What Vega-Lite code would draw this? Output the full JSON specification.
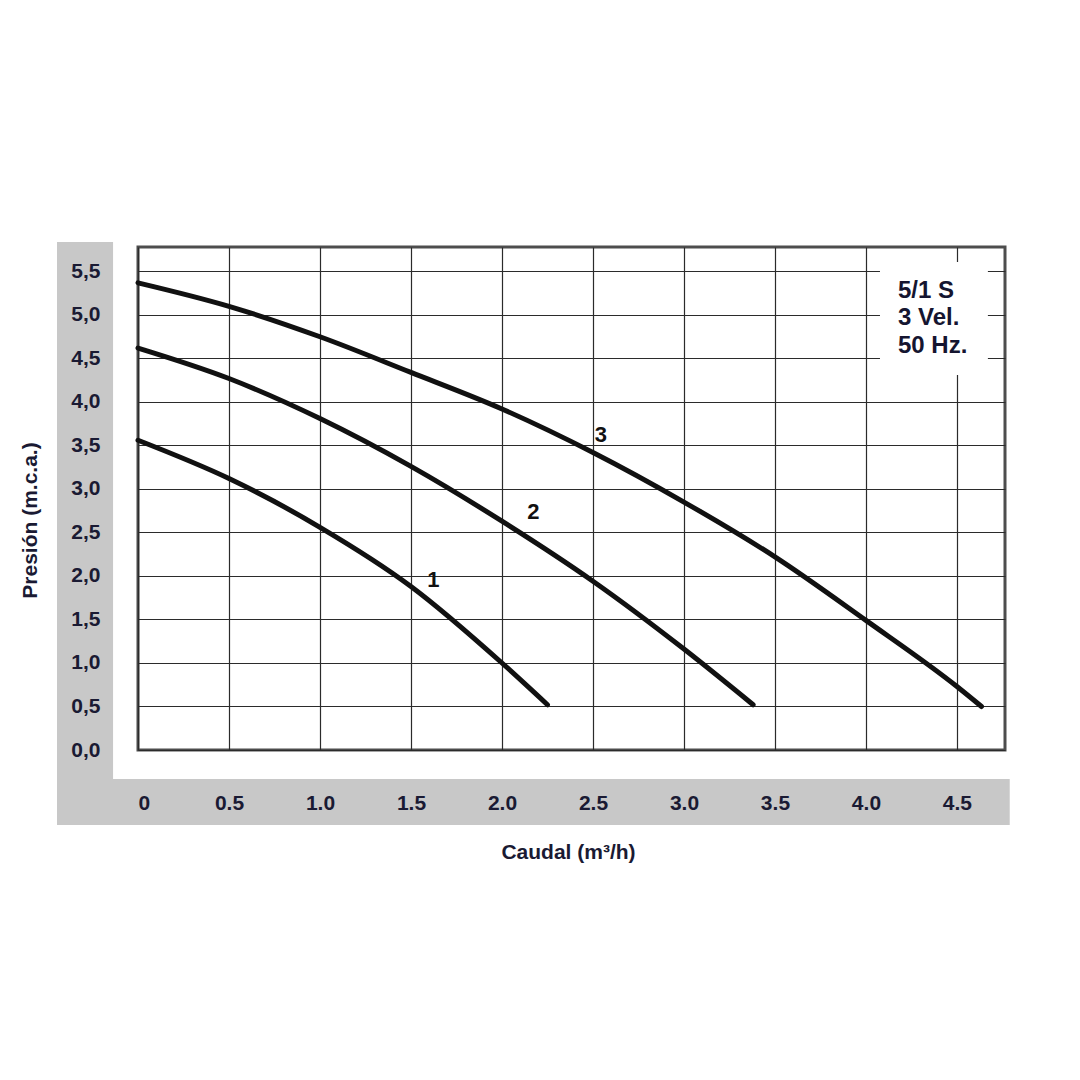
{
  "$schema": "https://vega.github.io/schema/vega-lite/v6.json",
  "autosize": {"type": "none"},
  "padding": {"left": 138, "top": 247, "right": 75, "bottom": 330},
  "width": 867,
  "height": 503,
  "background": "white",
  "config": {
    "view": {"stroke": "#4d4d4d", "strokeWidth": 3},
    "axis": {
      "domain": false,
      "ticks": false,
      "labelFont": "Liberation Sans",
      "labelFontWeight": "bold",
      "labelFontSize": 21,
      "labelColor": "#1a1a33",
      "titleFont": "Liberation Sans",
      "titleFontWeight": "bold",
      "titleFontSize": 21,
      "titleColor": "#1a1a33",
      "gridColor": "#2b2b2b",
      "gridWidth": 1.2,
      "gridOpacity": 1
    }
  },
  "resolve": {"axis": {"x": "independent", "y": "independent"}},
  "layer": [
    {
      "data": {"values": [{}]},
      "mark": {"type": "rect", "color": "#c8c8c8", "clip": false},
      "encoding": {
        "x": {"datum": -0.445, "type": "quantitative", "scale": {"domain": [0, 4.764], "nice": false, "zero": false},
          "axis": {"orient": "bottom", "grid": true, "labels": false, "title": null, "zindex": 0, "values": [0, 0.5, 1, 1.5, 2, 2.5, 3, 3.5, 4, 4.5]}},
        "x2": {"datum": -0.137},
        "y": {"datum": 5.84, "type": "quantitative", "scale": {"domain": [0, 5.7816], "nice": false, "zero": false},
          "axis": {"orient": "left", "grid": true, "labels": false, "title": null, "zindex": 0, "values": [0, 0.5, 1, 1.5, 2, 2.5, 3, 3.5, 4, 4.5, 5, 5.5]}},
        "y2": {"datum": -0.862}
      }
    },
    {
      "data": {"values": [{}]},
      "mark": {"type": "rect", "color": "#c8c8c8", "clip": false},
      "encoding": {
        "x": {"datum": -0.445, "type": "quantitative", "axis": null},
        "x2": {"datum": 4.79},
        "y": {"datum": -0.333, "type": "quantitative", "axis": null},
        "y2": {"datum": -0.862}
      }
    },
    {
      "data": {"values": [{}]},
      "mark": {"type": "rect", "color": "white", "clip": false},
      "encoding": {
        "x": {"datum": 4.077, "type": "quantitative", "axis": null},
        "x2": {"datum": 4.67},
        "y": {"datum": 5.61, "type": "quantitative", "axis": null},
        "y2": {"datum": 4.31}
      }
    },
    {
      "data": {"values": [
        {"curve": "1", "q": 0, "h": 3.56},
        {"curve": "1", "q": 0.5, "h": 3.12},
        {"curve": "1", "q": 1.0, "h": 2.56},
        {"curve": "1", "q": 1.5, "h": 1.88},
        {"curve": "1", "q": 2.0, "h": 1.0},
        {"curve": "1", "q": 2.25, "h": 0.52},
        {"curve": "2", "q": 0, "h": 4.62},
        {"curve": "2", "q": 0.5, "h": 4.27},
        {"curve": "2", "q": 1.0, "h": 3.81},
        {"curve": "2", "q": 1.5, "h": 3.26},
        {"curve": "2", "q": 2.0, "h": 2.63},
        {"curve": "2", "q": 2.5, "h": 1.94},
        {"curve": "2", "q": 3.0, "h": 1.16},
        {"curve": "2", "q": 3.38, "h": 0.52},
        {"curve": "3", "q": 0, "h": 5.37},
        {"curve": "3", "q": 0.5, "h": 5.10},
        {"curve": "3", "q": 1.0, "h": 4.75},
        {"curve": "3", "q": 1.5, "h": 4.34},
        {"curve": "3", "q": 2.0, "h": 3.92},
        {"curve": "3", "q": 2.5, "h": 3.42},
        {"curve": "3", "q": 3.0, "h": 2.85},
        {"curve": "3", "q": 3.5, "h": 2.22},
        {"curve": "3", "q": 4.0, "h": 1.49},
        {"curve": "3", "q": 4.5, "h": 0.73},
        {"curve": "3", "q": 4.635, "h": 0.5}
      ]},
      "mark": {"type": "line", "color": "#111111", "strokeWidth": 5, "interpolate": "monotone", "strokeCap": "round"},
      "encoding": {
        "detail": {"field": "curve"},
        "x": {"field": "q", "type": "quantitative",
          "axis": {"orient": "bottom", "grid": false, "zindex": 1, "values": [0, 0.5, 1, 1.5, 2, 2.5, 3, 3.5, 4, 4.5],
            "labelExpr": "datum.value == 0 ? '0' : format(datum.value, '.1f')",
            "labelPadding": 53, "labelBaseline": "middle",
            "title": "Caudal (m³/h)", "titleX": 430, "titleY": 102, "titleAlign": "center", "titleBaseline": "middle"}},
        "y": {"field": "h", "type": "quantitative",
          "axis": {"orient": "left", "grid": false, "zindex": 1, "values": [0, 0.5, 1, 1.5, 2, 2.5, 3, 3.5, 4, 4.5, 5, 5.5],
            "labelExpr": "replace(format(datum.value, '.1f'), '.', ',')",
            "labelPadding": 38, "labelAlign": "right", "labelBaseline": "middle",
            "title": "Presión (m.c.a.)", "titleX": -108, "titleY": 273, "titleAlign": "center", "titleBaseline": "middle", "titleAngle": 270}}
      }
    },
    {
      "data": {"values": [
        {"label": "1", "q": 1.623, "h": 1.95},
        {"label": "2", "q": 2.172, "h": 2.74},
        {"label": "3", "q": 2.544, "h": 3.62}
      ]},
      "mark": {"type": "text", "font": "Liberation Sans", "fontWeight": "bold", "fontSize": 22, "color": "#111111", "align": "center", "baseline": "middle"},
      "encoding": {
        "x": {"field": "q", "type": "quantitative", "axis": null},
        "y": {"field": "h", "type": "quantitative", "axis": null},
        "text": {"field": "label"}
      }
    },
    {
      "data": {"values": [{}]},
      "mark": {"type": "text", "font": "Liberation Sans", "fontWeight": "bold", "fontSize": 24, "color": "#151530", "align": "left", "baseline": "middle", "lineHeight": 27.5,
        "text": ["5/1 S", "3 Vel.", "50 Hz."]},
      "encoding": {
        "x": {"datum": 4.176, "type": "quantitative", "axis": null},
        "y": {"datum": 5.28, "type": "quantitative", "axis": null}
      }
    }
  ]
}
